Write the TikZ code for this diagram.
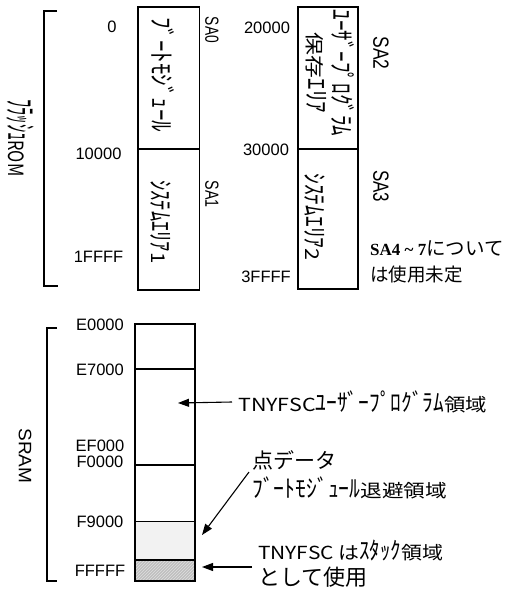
\documentclass[tikz,border=0pt]{standalone}
\usepackage{fontspec}
\usepackage{graphicx}
\setmainfont{Liberation Sans}
\newfontfamily\jp{Noto Sans CJK JP}
\newfontfamily\srf{Liberation Serif}
\usetikzlibrary{arrows.meta,patterns}
\newcommand{\fitw}[2]{\resizebox{#1pt}{\height}{#2}}
\newcommand{\hk}[1]{\scalebox{1}[1.35]{#1}}
\begin{document}
\begin{tikzpicture}[x=1pt,y=-1pt,
  box/.style={draw=black, line width=1.1pt},
  sep/.style={draw=black, line width=1.4pt},
  brk/.style={draw=black, line width=1.1pt},
  num/.style={inner sep=0pt, font=\fontsize{16.5}{16.5}\selectfont},
  vt/.style={rotate=-90, inner sep=0pt, font=\jp\fontsize{19}{19}\selectfont},
  sa/.style={rotate=-90, inner sep=0pt, font=\fontsize{19}{19}\selectfont},
  lbl/.style={inner sep=0pt, anchor=west, font=\jp\fontsize{18}{18}\selectfont},
  arr/.style={draw=black, line width=1.1pt, -{Triangle[length=11pt,width=8pt]}}]
\useasboundingbox (0,0) rectangle (514,594);

% ---- Flash ROM ----
\draw[brk] (57,11) -| (44,286) -- (58,286);
\node[vt, font=\jp\fontsize{21}{21}\selectfont] (rom) at (20,138) {\fitw{77}{\scalebox{1}[1.6]{ﾌﾗｯｼｭ}ROM}};

\draw[box] (138,7) rectangle (199.5,290);
\draw[sep] (138,149) -- (199.5,149);
\node[vt] (boot) at (163,75) {\fitw{115}{\hk{ﾌﾞｰﾄﾓｼﾞｭｰﾙ}}};
\node[vt] (sys1) at (161,222) {\fitw{83}{\hk{ｼｽﾃﾑｴﾘｱ}1}};

\node[num] (a0) at (112,27) {0};
\node[num] (a10000) at (98.5,154) {10000};
\node[num] (a1ffff) at (98.5,257) {1FFFF};
\node[sa] (sa0) at (212,30) {\fitw{26}{SA0}};
\node[sa] (sa1) at (212,194) {\fitw{27}{SA1}};

\draw[box] (298,7) rectangle (358,289);
\draw[sep] (298,149) -- (358,149);
\node[vt] (user) at (343,73) {\fitw{127}{\hk{ﾕｰｻﾞｰﾌﾟﾛｸﾞﾗﾑ}}};
\node[vt] (hozon) at (316,73) {\fitw{80}{保存\hk{ｴﾘｱ}}};
\node[vt] (sys2) at (315,217) {\fitw{87}{\hk{ｼｽﾃﾑｴﾘｱ}2}};

\node[num] (a20000) at (267,28) {20000};
\node[num] (a30000) at (266,150) {30000};
\node[num] (a3ffff) at (266,277) {3FFFF};
\node[sa, font=\fontsize{22}{22}\selectfont] (sa2) at (381,53) {\fitw{33}{SA2}};
\node[sa, font=\fontsize{22}{22}\selectfont] (sa3) at (381,186) {\fitw{32}{SA3}};

\node[inner sep=0pt, anchor=west] (sa47) at (370,248)
  {{\srf\bfseries\fontsize{17}{17}\selectfont SA4 \textasciitilde{} 7}{\jp\fontsize{19.5}{19.5}\selectfont について}};
\node[inner sep=0pt, anchor=west, font=\jp\fontsize{18.5}{18.5}\selectfont] (mitei) at (370,274) {は使用未定};

% ---- SRAM ----
\draw[brk] (57,328) -| (47,581) -- (57,581);
\node[sa, font=\fontsize{18}{18}\selectfont] (sram) at (25,456) {\fitw{55}{SRAM}};

\fill[gray!10] (135,521) rectangle (195,560);
\draw[box] (135,324) rectangle (195,581);
\draw[sep] (135,369) -- (195,369);
\draw[sep] (135,465) -- (195,465);
\draw[draw=black, line width=0.8pt] (135,521) -- (195,521);
\fill[gray!50] (135,560) rectangle (195,581);
\fill[pattern=north east lines, pattern color=gray!25] (135,560) rectangle (195,581);
\draw[draw=black, line width=1.8pt] (135,560) rectangle (195,581);

\node[num] (e0000) at (100,325) {E0000};
\node[num] (e7000) at (100,370) {E7000};
\node[num] (ef000) at (100,446) {EF000};
\node[num] (f0000) at (100,462) {F0000};
\node[num] (f9000) at (100,522) {F9000};
\node[num] (fffff) at (100,571) {FFFFF};

% ---- labels and arrows ----
\node[lbl] (tnyuser) at (238,402) {\fitw{249}{TNYFSC\hk{ﾕｰｻﾞｰﾌﾟﾛｸﾞﾗﾑ}領域}};
\coordinate (tip1) at (178,403);
\draw[arr] ([xshift=-6pt]tnyuser.west) -- (tip1);

\node[lbl, font=\jp\fontsize{21}{21}\selectfont] (ten) at (252,460) {点データ};
\node[lbl] (taihi) at (252,488) {\fitw{195}{\hk{ﾌﾞｰﾄﾓｼﾞｭｰﾙ}退避領域}};
\coordinate (s2) at (249,472);
\coordinate (tip2) at (202,535);
\draw[arr] (s2) -- (tip2);

\node[lbl] (stack) at (258,550) {\fitw{185}{TNYFSC は\hk{ｽﾀｯｸ}領域}};
\node[lbl, font=\jp\fontsize{22}{22}\selectfont] (shiyou) at (258,577) {として使用};
\coordinate (s3) at (252,567);
\coordinate (tip3) at (202,567);
\draw[arr] (s3) -- (tip3);
\end{tikzpicture}
\end{document}
